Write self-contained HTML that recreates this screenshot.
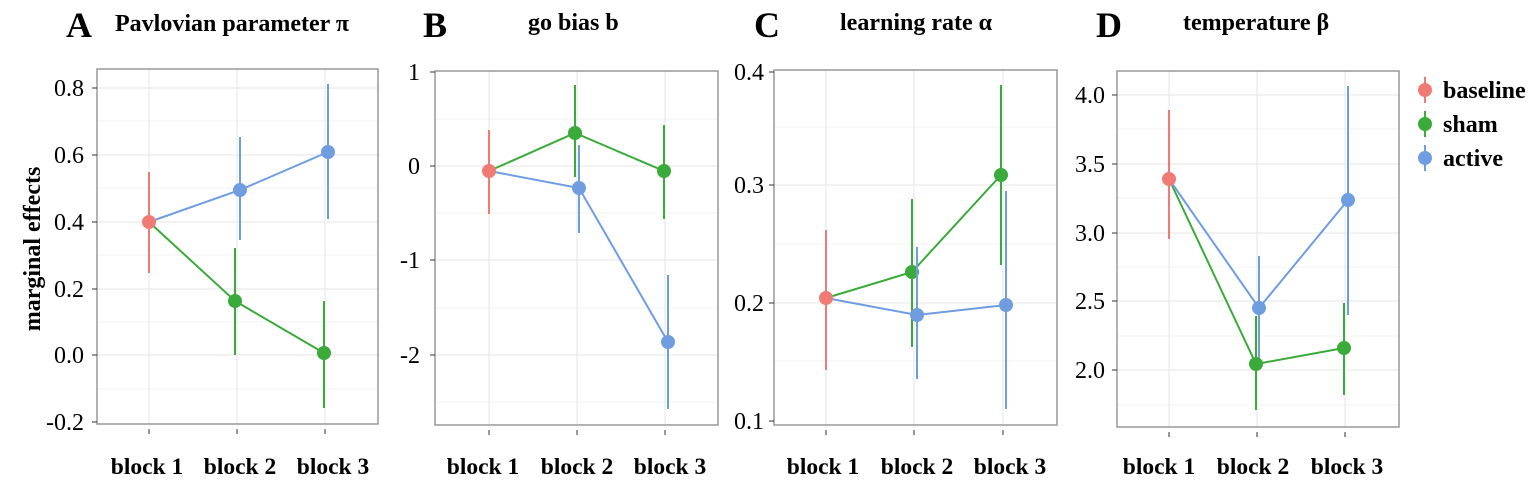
<!DOCTYPE html>
<html><head><meta charset="utf-8"><style>body{margin:0;background:#fff}svg{display:block}</style></head><body>
<svg width="1535" height="480" xmlns="http://www.w3.org/2000/svg" font-family="Liberation Serif, serif">
<defs>
<style>
.g{stroke:#ebebeb;stroke-width:1.3}.gm{stroke:#f3f3f3;stroke-width:1}
.fr{fill:none;stroke:#999;stroke-width:1.5}
.tk{font-size:24px;text-anchor:end}
.cx{font-size:23.5px;font-weight:bold;text-anchor:middle}
.tt{font-size:24px;font-weight:bold}
.lg{font-size:24px;font-weight:bold}
.lt{font-size:36px;font-weight:bold}
.r{stroke:#f07b74;fill:#f07b74}.gr{stroke:#3aaa3a;fill:#3aaa3a}.b{stroke:#6f9de0;fill:#6f9de0}
</style>
</defs>
<!-- Panel A -->
<text x="66" y="37" class="lt">A</text><text x="115" y="31" class="tt">Pavlovian parameter π</text>
<text transform="translate(40,249) rotate(-90)" class="tt" text-anchor="middle">marginal effects</text>
<g>
<line class="gm" x1="97" x2="378" y1="121" y2="121"/><line class="gm" x1="97" x2="378" y1="188" y2="188"/><line class="gm" x1="97" x2="378" y1="255" y2="255"/><line class="gm" x1="97" x2="378" y1="322" y2="322"/><line class="gm" x1="97" x2="378" y1="389" y2="389"/>
<line class="g" x1="97" x2="378" y1="88" y2="88"/><line class="g" x1="97" x2="378" y1="155" y2="155"/><line class="g" x1="97" x2="378" y1="222" y2="222"/><line class="g" x1="97" x2="378" y1="289" y2="289"/><line class="g" x1="97" x2="378" y1="355" y2="355"/>
<line class="g" x1="149" x2="149" y1="69" y2="424"/><line class="g" x1="237" x2="237" y1="69" y2="424"/><line class="g" x1="325" x2="325" y1="69" y2="424"/>
<rect class="fr" x="97" y="69" width="281" height="355"/>
<g stroke="#333"><line x1="92" x2="97" y1="88" y2="88"/><line x1="92" x2="97" y1="155" y2="155"/><line x1="92" x2="97" y1="222" y2="222"/><line x1="92" x2="97" y1="289" y2="289"/><line x1="92" x2="97" y1="355" y2="355"/><line x1="92" x2="97" y1="422" y2="422"/>
<line x1="149" x2="149" y1="429" y2="434"/><line x1="237" x2="237" y1="429" y2="434"/><line x1="325" x2="325" y1="429" y2="434"/></g>
<text class="tk" x="84" y="96">0.8</text><text class="tk" x="84" y="163">0.6</text><text class="tk" x="84" y="230">0.4</text><text class="tk" x="84" y="297">0.2</text><text class="tk" x="84" y="363">0.0</text><text class="tk" x="84" y="430">-0.2</text>
<g class="b" stroke-width="2"><polyline fill="none" points="149,222 240,190 328,152"/><line x1="240" x2="240" y1="137" y2="240"/><line x1="328" x2="328" y1="84" y2="219"/><circle cx="240" cy="190" r="6"/><circle cx="328" cy="152" r="6"/></g>
<g class="gr" stroke-width="2"><polyline fill="none" points="149,222 235,301 324,353"/><line x1="235" x2="235" y1="248" y2="355"/><line x1="324" x2="324" y1="301" y2="408"/><circle cx="235" cy="301" r="6"/><circle cx="324" cy="353" r="6"/></g>
<g class="r" stroke-width="2"><line x1="149" x2="149" y1="172" y2="273"/><circle cx="149" cy="222" r="6"/></g>
</g>
<text class="cx" x="147" y="474">block 1</text><text class="cx" x="240" y="474">block 2</text><text class="cx" x="333" y="474">block 3</text>

<!-- Panel B -->
<text x="423" y="37" class="lt">B</text><text x="528" y="30" class="tt">go bias b</text>
<g>
<line class="gm" x1="435" x2="718" y1="119" y2="119"/><line class="gm" x1="435" x2="718" y1="213" y2="213"/><line class="gm" x1="435" x2="718" y1="308" y2="308"/><line class="gm" x1="435" x2="718" y1="402" y2="402"/>
<line class="g" x1="435" x2="718" y1="166" y2="166"/><line class="g" x1="435" x2="718" y1="260" y2="260"/><line class="g" x1="435" x2="718" y1="355" y2="355"/>
<line class="g" x1="489" x2="489" y1="71" y2="425"/><line class="g" x1="577" x2="577" y1="71" y2="425"/><line class="g" x1="665" x2="665" y1="71" y2="425"/>
<rect class="fr" x="435" y="71" width="283" height="354"/>
<g stroke="#333"><line x1="430" x2="435" y1="72" y2="72"/><line x1="430" x2="435" y1="166" y2="166"/><line x1="430" x2="435" y1="260" y2="260"/><line x1="430" x2="435" y1="355" y2="355"/>
<line x1="489" x2="489" y1="430" y2="435"/><line x1="577" x2="577" y1="430" y2="435"/><line x1="665" x2="665" y1="430" y2="435"/></g>
<text class="tk" x="420" y="80">1</text><text class="tk" x="420" y="174">0</text><text class="tk" x="420" y="268">-1</text><text class="tk" x="420" y="363">-2</text>
<g class="b" stroke-width="2"><polyline fill="none" points="489,171 579,188 668,342"/><line x1="579" x2="579" y1="145" y2="233"/><line x1="668" x2="668" y1="275" y2="409"/><circle cx="579" cy="188" r="6"/><circle cx="668" cy="342" r="6"/></g>
<g class="gr" stroke-width="2"><polyline fill="none" points="489,171 575,133 664,171"/><line x1="575" x2="575" y1="85" y2="177"/><line x1="664" x2="664" y1="125" y2="219"/><circle cx="575" cy="133" r="6"/><circle cx="664" cy="171" r="6"/></g>
<g class="r" stroke-width="2"><line x1="489" x2="489" y1="130" y2="214"/><circle cx="489" cy="171" r="6"/></g>
</g>
<text class="cx" x="483" y="474">block 1</text><text class="cx" x="577" y="474">block 2</text><text class="cx" x="670" y="474">block 3</text>

<!-- Panel C -->
<text x="754" y="37" class="lt">C</text><text x="840" y="30" class="tt">learning rate α</text>
<g>
<line class="gm" x1="774" x2="1057" y1="127" y2="127"/><line class="gm" x1="774" x2="1057" y1="244" y2="244"/><line class="gm" x1="774" x2="1057" y1="361" y2="361"/>
<line class="g" x1="774" x2="1057" y1="185" y2="185"/><line class="g" x1="774" x2="1057" y1="303" y2="303"/>
<line class="g" x1="826" x2="826" y1="70" y2="425"/><line class="g" x1="914" x2="914" y1="70" y2="425"/><line class="g" x1="1003" x2="1003" y1="70" y2="425"/>
<rect class="fr" x="774" y="70" width="283" height="355"/>
<g stroke="#333"><line x1="769" x2="774" y1="72" y2="72"/><line x1="769" x2="774" y1="185" y2="185"/><line x1="769" x2="774" y1="303" y2="303"/><line x1="769" x2="774" y1="421" y2="421"/>
<line x1="826" x2="826" y1="430" y2="435"/><line x1="914" x2="914" y1="430" y2="435"/><line x1="1003" x2="1003" y1="430" y2="435"/></g>
<text class="tk" x="764" y="80">0.4</text><text class="tk" x="764" y="193">0.3</text><text class="tk" x="764" y="311">0.2</text><text class="tk" x="764" y="429">0.1</text>
<g class="gr" stroke-width="2"><polyline fill="none" points="826,298 912,272 1001,175"/><line x1="912" x2="912" y1="199" y2="347"/><line x1="1001" x2="1001" y1="85" y2="265"/><circle cx="912" cy="272" r="6"/><circle cx="1001" cy="175" r="6"/></g>
<g class="b" stroke-width="2"><polyline fill="none" points="826,298 917,315 1006,305"/><line x1="917" x2="917" y1="247" y2="379"/><line x1="1006" x2="1006" y1="191" y2="409"/><circle cx="917" cy="315" r="6"/><circle cx="1006" cy="305" r="6"/></g>
<g class="r" stroke-width="2"><line x1="826" x2="826" y1="230" y2="370"/><circle cx="826" cy="298" r="6"/></g>
</g>
<text class="cx" x="823" y="474">block 1</text><text class="cx" x="917" y="474">block 2</text><text class="cx" x="1010" y="474">block 3</text>

<!-- Panel D -->
<text x="1096" y="37" class="lt">D</text><text x="1183" y="30" class="tt">temperature β</text>
<g>
<line class="gm" x1="1117" x2="1399" y1="129" y2="129"/><line class="gm" x1="1117" x2="1399" y1="198" y2="198"/><line class="gm" x1="1117" x2="1399" y1="267" y2="267"/><line class="gm" x1="1117" x2="1399" y1="336" y2="336"/><line class="gm" x1="1117" x2="1399" y1="405" y2="405"/>
<line class="g" x1="1117" x2="1399" y1="95" y2="95"/><line class="g" x1="1117" x2="1399" y1="164" y2="164"/><line class="g" x1="1117" x2="1399" y1="233" y2="233"/><line class="g" x1="1117" x2="1399" y1="301" y2="301"/><line class="g" x1="1117" x2="1399" y1="370" y2="370"/>
<line class="g" x1="1169" x2="1169" y1="71" y2="427"/><line class="g" x1="1257" x2="1257" y1="71" y2="427"/><line class="g" x1="1345" x2="1345" y1="71" y2="427"/>
<rect class="fr" x="1117" y="71" width="282" height="356"/>
<g stroke="#333"><line x1="1112" x2="1117" y1="95" y2="95"/><line x1="1112" x2="1117" y1="164" y2="164"/><line x1="1112" x2="1117" y1="233" y2="233"/><line x1="1112" x2="1117" y1="301" y2="301"/><line x1="1112" x2="1117" y1="370" y2="370"/>
<line x1="1169" x2="1169" y1="432" y2="437"/><line x1="1257" x2="1257" y1="432" y2="437"/><line x1="1345" x2="1345" y1="432" y2="437"/></g>
<text class="tk" x="1105" y="103">4.0</text><text class="tk" x="1105" y="172">3.5</text><text class="tk" x="1105" y="241">3.0</text><text class="tk" x="1105" y="309">2.5</text><text class="tk" x="1105" y="378">2.0</text>
<g class="gr" stroke-width="2"><polyline fill="none" points="1169,179 1256,364 1344,348"/><line x1="1256" x2="1256" y1="316" y2="410"/><line x1="1344" x2="1344" y1="303" y2="395"/><circle cx="1256" cy="364" r="6"/><circle cx="1344" cy="348" r="6"/></g>
<g class="b" stroke-width="2"><polyline fill="none" points="1169,179 1259,308 1348,200"/><line x1="1259" x2="1259" y1="256" y2="358"/><line x1="1348" x2="1348" y1="86" y2="315"/><circle cx="1259" cy="308" r="6"/><circle cx="1348" cy="200" r="6"/></g>
<g class="r" stroke-width="2"><line x1="1169" x2="1169" y1="110" y2="239"/><circle cx="1169" cy="179" r="6"/></g>
</g>
<text class="cx" x="1159" y="474">block 1</text><text class="cx" x="1253" y="474">block 2</text><text class="cx" x="1347" y="474">block 3</text>

<!-- Legend -->
<g stroke-width="2">
<g class="r"><line x1="1425" x2="1425" y1="77" y2="103"/><circle cx="1425" cy="90" r="6"/></g>
<g class="gr"><line x1="1425" x2="1425" y1="111" y2="137"/><circle cx="1425" cy="124" r="6"/></g>
<g class="b"><line x1="1425" x2="1425" y1="145" y2="171"/><circle cx="1425" cy="158" r="6"/></g>
</g>
<text x="1443" y="98" class="lg">baseline</text><text x="1443" y="132" class="lg">sham</text><text x="1443" y="166" class="lg">active</text>
</svg>
</body></html>
